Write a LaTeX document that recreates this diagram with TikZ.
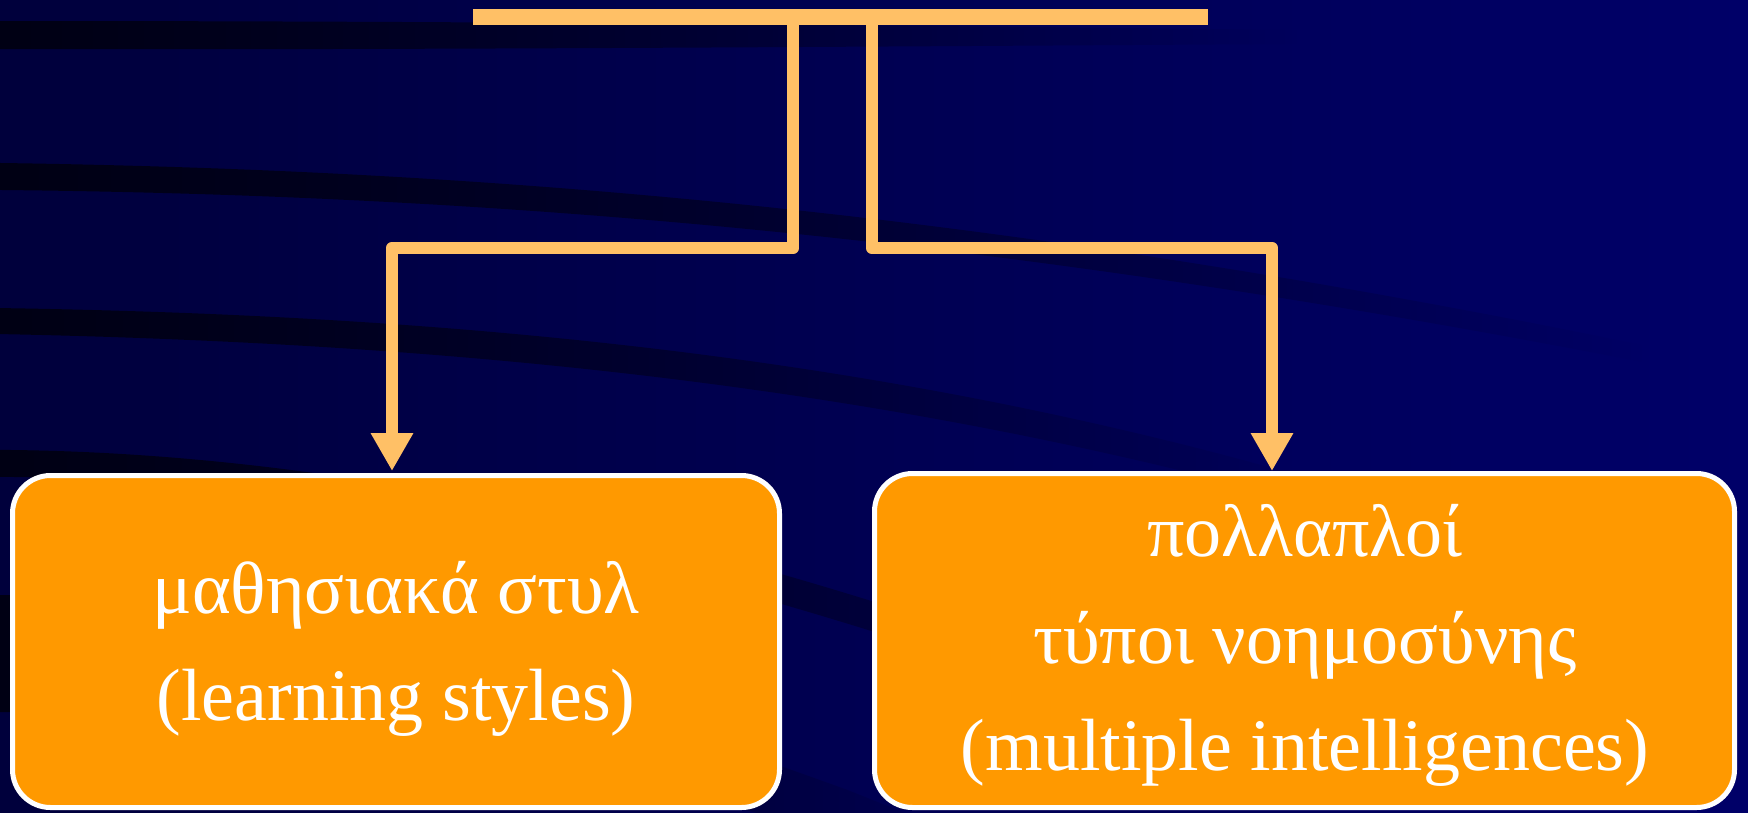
\documentclass[tikz,border=0pt]{standalone}
\usepackage{fontspec}
\setmainfont{Liberation Serif}
\usetikzlibrary{arrows.meta,fadings}
\definecolor{bgLeft}{RGB}{0,0,60}
\definecolor{bgRight}{RGB}{0,0,104}
\definecolor{streak}{RGB}{0,0,20}
\definecolor{connC}{RGB}{255,192,102}
\definecolor{boxC}{RGB}{255,153,0}
\tikzfading[name=faderight, left color=transparent!0, right color=transparent!100]
\begin{document}
\begin{tikzpicture}[x=1pt,y=-1pt,
  band/.style={fill=streak, path fading=faderight},
  topbar/.style={fill=connC, draw=none, minimum width=735pt, minimum height=16pt, inner sep=0pt},
  connector/.style={draw=connC, line width=12.5pt, line join=round, -{Triangle[width=40pt,length=38pt]}},
  card/.style={draw=white, line width=5pt, fill=boxC, rounded corners=38pt, inner sep=0pt},
  cardtext/.style={text=white, font=\fontsize{74pt}{107pt}\selectfont, anchor=base, inner sep=0pt},
]
\useasboundingbox (0,0) rectangle (1748,812);
% background
\shade[left color=bgLeft, right color=bgRight] (0,0) rectangle (1748,812);
% dark streaks
\fill[band] (0,21) .. controls (400,21) and (800,24) .. (1300,30) -- (1300,44) .. controls (800,47) and (400,50) .. (0,49) -- cycle;
\fill[band] (0,163) .. controls (500,170) and (1000,212) .. (1650,345) -- (1650,362) .. controls (1000,236) and (500,195) .. (0,190) -- cycle;
\fill[band] (0,308) .. controls (450,315) and (900,355) .. (1350,490) -- (1350,515) .. controls (900,385) and (450,343) .. (0,334) -- cycle;
\fill[band] (0,450) .. controls (300,452) and (600,515) .. (900,610) -- (1400,790) -- (1400,820) -- (900,640) .. controls (600,545) and (300,478) .. (0,477) -- cycle;
\fill[band] (0,595) .. controls (300,600) and (600,700) .. (850,790) -- (1000,850) -- (900,860) -- (850,840) .. controls (600,760) and (300,715) .. (0,712) -- cycle;
% top bar
\node[topbar] (top) at (840.5,17) {};
% boxes
\node[card, minimum width=767pt, minimum height=332pt] (lbox) at (396,641.5) {};
\node[card, minimum width=860pt, minimum height=334pt] (rbox) at (1304.5,640.5) {};
% connectors
\coordinate (lstart) at (793,25);
\coordinate (lknee) at (793,248);
\coordinate (ltip) at (392,471);
\coordinate (rstart) at (872,25);
\coordinate (rknee) at (872,248);
\coordinate (rtip) at (1272,471);
\draw[connector] (lstart) -- (lknee) -| (ltip);
\draw[connector] (rstart) -- (rknee) -| (rtip);
% texts
\node[cardtext] (l1) at (396,613) {μαθησιακά στυλ};
\node[cardtext] (l2) at (396,720) {(learning styles)};
\node[cardtext] (r1) at (1305,556) {πολλαπλοί};
\node[cardtext] (r2) at (1305,663) {τύποι νοημοσύνης};
\node[cardtext] (r3) at (1305,770) {(multiple intelligences)};
\end{tikzpicture}
\end{document}
